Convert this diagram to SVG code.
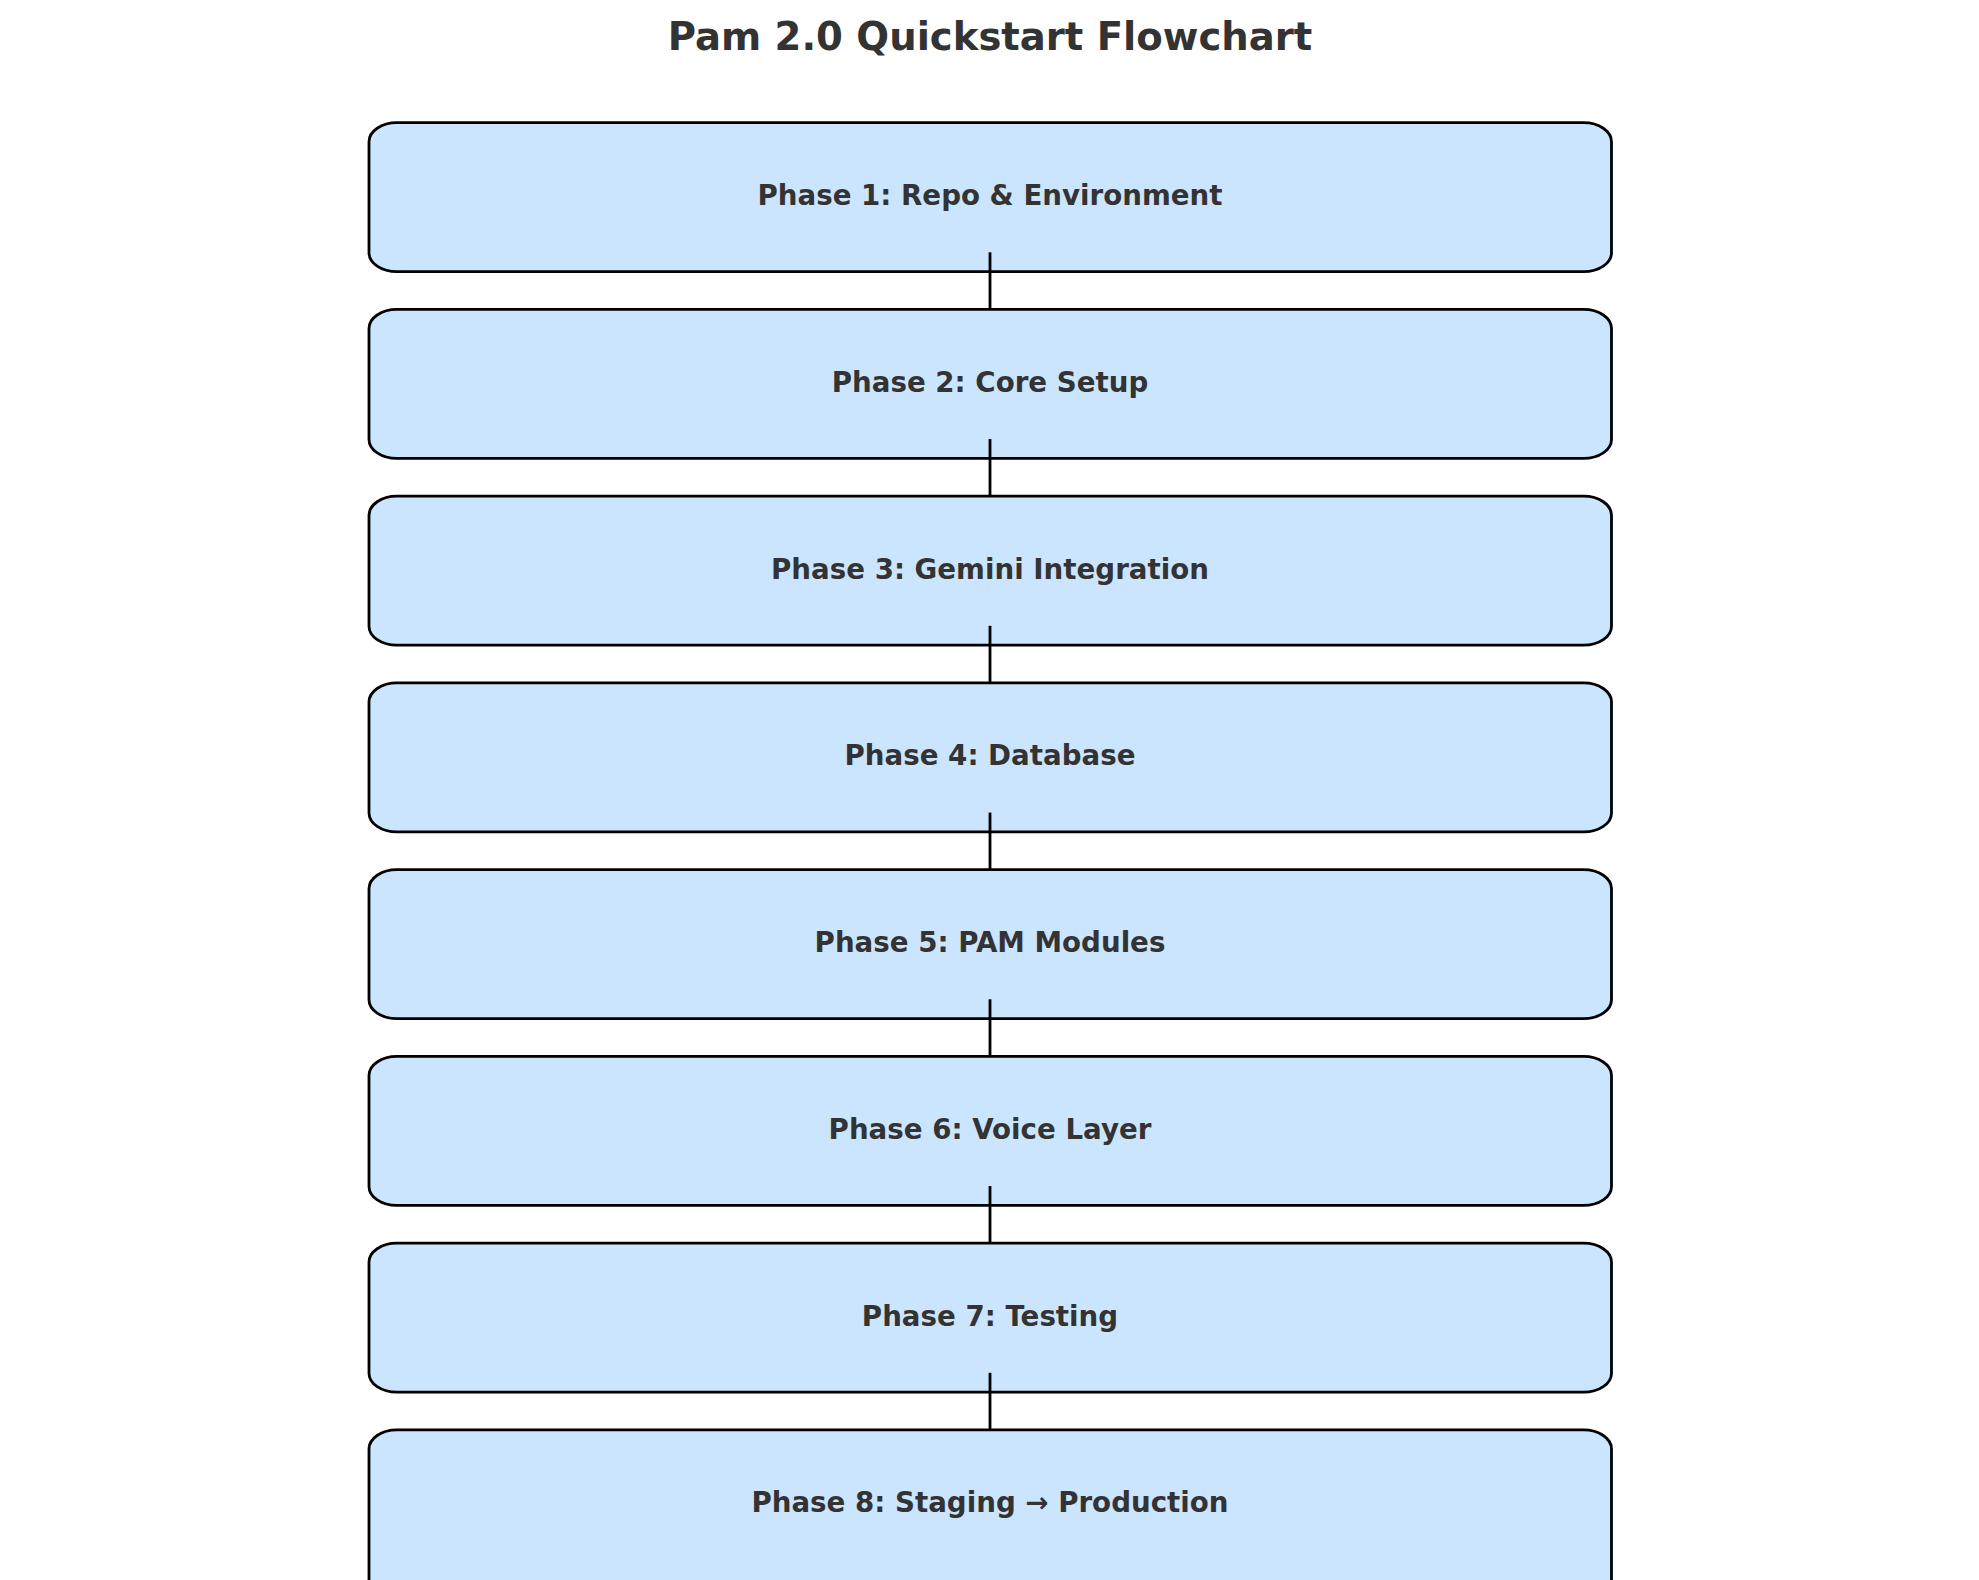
<svg xmlns="http://www.w3.org/2000/svg" width="1979" height="1580" viewBox="0 0 1979 1580">
<style>
.box{fill:#cce5ff;stroke:#000;stroke-width:2.8}
.lbl{font-family:"DejaVu Sans",sans-serif;font-weight:bold;font-size:27.7px;fill:#333;text-anchor:middle}
.title{font-family:"DejaVu Sans",sans-serif;font-weight:bold;font-size:38.6px;fill:#333;text-anchor:middle}
.conn{stroke:#000;stroke-width:2.8;fill:none}
</style>
<rect width="1979" height="1580" fill="#fff"/>
<text class="title" x="990" y="50">Pam 2.0 Quickstart Flowchart</text>
<g id="node1"><rect class="box" x="369" y="122.7" width="1242.5" height="149" rx="28" ry="19"/><text class="lbl" x="990" y="205">Phase 1: Repo &amp; Environment</text></g>
<g id="node2"><rect class="box" x="369" y="309.45" width="1242.5" height="149" rx="28" ry="19"/><text class="lbl" x="990" y="391.75">Phase 2: Core Setup</text></g>
<g id="node3"><rect class="box" x="369" y="496.2" width="1242.5" height="149" rx="28" ry="19"/><text class="lbl" x="990" y="578.5">Phase 3: Gemini Integration</text></g>
<g id="node4"><rect class="box" x="369" y="682.95" width="1242.5" height="149" rx="28" ry="19"/><text class="lbl" x="990" y="765.25">Phase 4: Database</text></g>
<g id="node5"><rect class="box" x="369" y="869.7" width="1242.5" height="149" rx="28" ry="19"/><text class="lbl" x="990" y="952">Phase 5: PAM Modules</text></g>
<g id="node6"><rect class="box" x="369" y="1056.45" width="1242.5" height="149" rx="28" ry="19"/><text class="lbl" x="990" y="1138.75">Phase 6: Voice Layer</text></g>
<g id="node7"><rect class="box" x="369" y="1243.2" width="1242.5" height="149" rx="28" ry="19"/><text class="lbl" x="990" y="1325.5">Phase 7: Testing</text></g>
<g id="node8"><rect class="box" x="369" y="1429.95" width="1242.5" height="180" rx="28" ry="19"/><text class="lbl" x="990" y="1512.25">Phase 8: Staging → Production</text></g>
<g id="connectors">
<line class="conn" x1="990" y1="252.3" x2="990" y2="309.45"/>
<line class="conn" x1="990" y1="439.05" x2="990" y2="496.2"/>
<line class="conn" x1="990" y1="625.8" x2="990" y2="682.95"/>
<line class="conn" x1="990" y1="812.55" x2="990" y2="869.7"/>
<line class="conn" x1="990" y1="999.3" x2="990" y2="1056.45"/>
<line class="conn" x1="990" y1="1186.05" x2="990" y2="1243.2"/>
<line class="conn" x1="990" y1="1372.8" x2="990" y2="1429.95"/>
</g>
</svg>
